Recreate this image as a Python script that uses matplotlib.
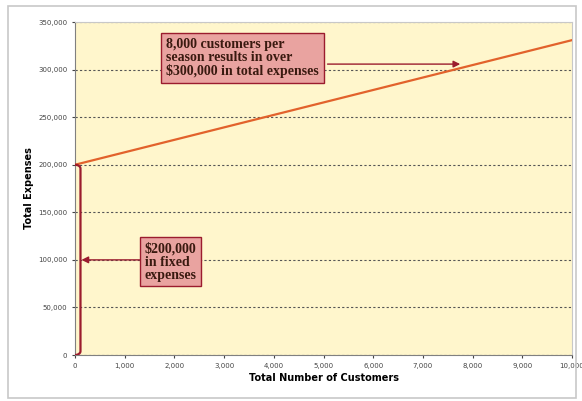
import matplotlib.pyplot as plt
import numpy as np
from matplotlib.patches import Rectangle

# data
customers = [0, 10000]
fixed_cost = 200000
variable_cost = 13.1
expenses = [fixed_cost + variable_cost * c for c in customers]
x_ticks = list(range(0, 10001, 1000))
y_ticks = list(range(0, 350001, 50000))

bg = "#FFF6CC"
line_col = "#E2622C"
dark_red = "#9B1C2E"
box_fill = "#E9A3A0"

fig = plt.figure(figsize=(5.82, 4.01), dpi=100)
fig.patches.append(Rectangle((0.014, 0.008), 0.975, 0.978, transform=fig.transFigure,
                             fill=False, edgecolor="#C8C8C8", linewidth=1.2))
ax = fig.add_axes([0.1289, 0.1147, 0.854, 0.8303])
ax.set_facecolor(bg)

ax.plot(customers, expenses, color=line_col, linewidth=1.6, zorder=3)

ax.set_xlim(0, 10000)
ax.set_ylim(0, 350000)
ax.set_xticks(x_ticks)
ax.set_yticks(y_ticks)
ax.set_xticklabels([f"{v:,}" for v in x_ticks])
ax.set_yticklabels([f"{v:,}" for v in y_ticks])
ax.tick_params(labelsize=5, colors="#444444", length=2, width=0.8)
ax.yaxis.grid(True, linestyle=(0, (2, 2)), color="#555555", linewidth=0.8)
for s in ["left", "bottom"]:
    ax.spines[s].set_color("#808080")
for s in ["top", "right"]:
    ax.spines[s].set_color("#C8C8C8")

ax.set_xlabel("Total Number of Customers", fontsize=7, fontweight="bold", labelpad=3)
ax.set_ylabel("Total Expenses", fontsize=7, fontweight="bold", labelpad=3)

# bracket marking fixed expenses
bx = 110
t = np.linspace(0, np.pi / 2, 10)
r_x, r_y = bx, 4000
bot_x = r_x * np.sin(t)
bot_y = r_y * (1 - np.cos(t))
top_x = r_x * np.sin(t[::-1])
top_y = fixed_cost - r_y * (1 - np.cos(t[::-1]))
ax.plot(np.concatenate([bot_x, top_x]), np.concatenate([bot_y, top_y]),
        color=dark_red, linewidth=1.6, zorder=4)

text_kw = dict(fontsize=10, fontweight="bold", family="Liberation Serif", color="#3A1A10",
               va="center", ha="left", linespacing=1.0,
               bbox=dict(boxstyle="square,pad=0.35", facecolor=box_fill, edgecolor=dark_red, linewidth=1.0))
arrow_kw = dict(arrowstyle="-|>", color=dark_red, linewidth=1.0, mutation_scale=10, shrinkA=0, shrinkB=0)

ax.text(1400, 98000, "$200,000\nin fixed\nexpenses", **text_kw)
ax.annotate("", xy=(bx + 20, fixed_cost / 2), xytext=(1300, fixed_cost / 2), arrowprops=arrow_kw)

ax.text(1830, 312500, "8,000 customers per\nseason results in over\n$300,000 in total expenses", **text_kw)
ax.annotate("", xy=(7750, 305800), xytext=(5080, 305800), arrowprops=arrow_kw)

fig.savefig("out.png", dpi=100)
